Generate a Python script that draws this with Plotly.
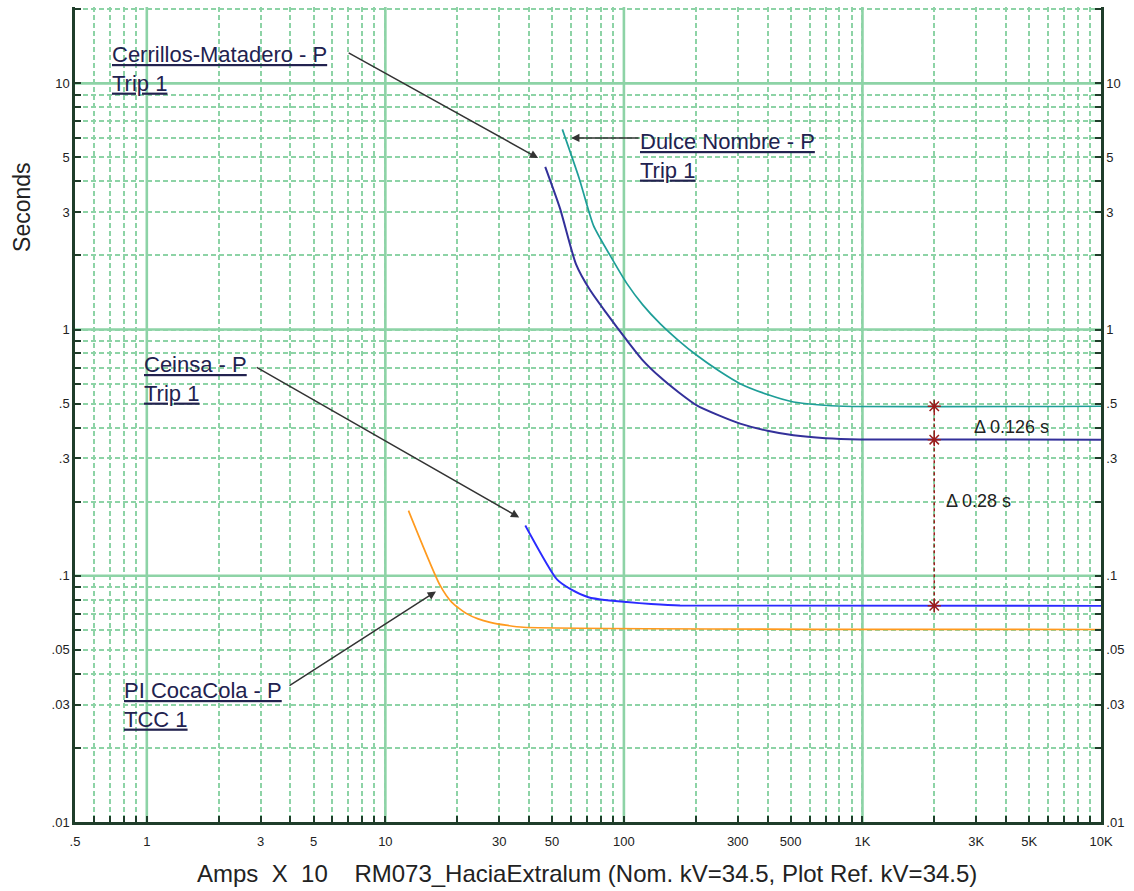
import numpy as np
import plotly.graph_objects as go

# ---------------- data ----------------
dulce_x = [55.2, 65.0, 74.5, 87.5, 102.8, 120.0, 141.8, 170.0, 202, 250, 307, 400, 514, 650, 832, 10000]
dulce_y = [6.5, 4.1, 2.65, 2.0, 1.54, 1.26, 1.057, 0.90, 0.786, 0.68, 0.603, 0.545, 0.508, 0.495, 0.488, 0.488]

cerr_x = [46.8, 54.0, 62.9, 72.0, 84.8, 102.8, 120.0, 141.8, 170.0, 202, 250, 307, 400, 514, 700, 977, 10000]
cerr_y = [4.58, 3.10, 1.85, 1.45, 1.16, 0.905, 0.75, 0.641, 0.555, 0.492, 0.448, 0.415, 0.388, 0.372, 0.362, 0.358, 0.357]

ceinsa_x = [38.6, 52.4, 60.0, 71, 85.0, 102.8, 130.0, 172, 10000]
ceinsa_y = [0.16, 0.0966, 0.0880, 0.0818, 0.0795, 0.0782, 0.0768, 0.0757, 0.0755]

coca_x = [12.5, 16.96, 19.0, 21.9, 24.5, 27.5, 32.0, 37.9, 10000]
coca_y = [0.184, 0.0914, 0.0780, 0.0702, 0.0668, 0.0647, 0.0630, 0.0618, 0.0605]

delta_x = 2000
delta_levels = [0.488, 0.357, 0.0755]
delta_texts = ["\u0394 0.126 s", "\u0394 0.28 s"]

x_tickvals = [0.5, 1, 3, 5, 10, 30, 50, 100, 300, 500, 1000, 3000, 5000, 10000]
x_ticktext = [".5", "1", "3", "5", "10", "30", "50", "100", "300", "500", "1K", "3K", "5K", "10K"]
y_tickvals = [0.01, 0.03, 0.05, 0.1, 0.3, 0.5, 1, 3, 5, 10]
y_ticktext = [".01", ".03", ".05", ".1", ".3", ".5", "1", "3", "5", "10"]
decades_x = [1, 10, 100, 1000]
decades_y = [0.1, 1, 10]

# ---------------- styling ----------------
GRID = "#8dd3a6"
AXIS = "#1f3d2a"
FONT = "Liberation Sans, Arial, sans-serif"
LBL = "#22224f"

X_RANGE = [np.log10(0.5), 4.0]
Y_RANGE = [-2.0, 1.31]

def L(v):
    return float(np.log10(v))

fig = go.Figure()

fig.add_trace(go.Scatter(x=coca_x, y=coca_y, mode="lines", line_shape="spline",
                         line=dict(color="#ff9a1e", width=1.7, smoothing=0.6), name="PI CocaCola - P"))
fig.add_trace(go.Scatter(x=ceinsa_x, y=ceinsa_y, mode="lines", line_shape="spline",
                         line=dict(color="#2b2bff", width=1.9, smoothing=0.6), name="Ceinsa - P"))
fig.add_trace(go.Scatter(x=dulce_x, y=dulce_y, mode="lines", line_shape="spline",
                         line=dict(color="#1e9e98", width=1.7, smoothing=0.6), name="Dulce Nombre - P"))
fig.add_trace(go.Scatter(x=cerr_x, y=cerr_y, mode="lines", line_shape="spline",
                         line=dict(color="#33309a", width=2.0, smoothing=0.6), name="Cerrillos-Matadero - P"))

# delta measurement line (drawn on the right-hand overlay axis, same scale)
fig.add_trace(go.Scatter(x=[delta_x] * len(delta_levels), y=delta_levels, mode="lines+markers",
                         yaxis="y2",
                         line=dict(color="#9b1c1c", width=1.5, dash="dot"),
                         marker=dict(symbol="asterisk-open", size=11,
                                     line=dict(color="#9b1c1c", width=1.5)),
                         name="delta"))

# solid decade grid lines
shapes = []
for v in decades_x:
    shapes.append(dict(type="line", xref="x", yref="paper", x0=v, x1=v, y0=0, y1=1,
                       line=dict(color=GRID, width=2.6), layer="below"))
for v in decades_y:
    shapes.append(dict(type="line", xref="paper", yref="y", x0=0, x1=1, y0=v, y1=v,
                       line=dict(color=GRID, width=2.6), layer="below"))

annotations = []

def label(text1, text2, x, y):
    annotations.append(dict(
        x=L(x), y=L(y), xref="x", yref="y", xanchor="left", yanchor="middle",
        text=f"<u>{text1}</u><br><u>{text2}</u>", showarrow=False, align="left",
        font=dict(family=FONT, size=22, color=LBL)))

def arrow(x, y, ax, ay):
    annotations.append(dict(
        x=L(x), y=L(y), xref="x", yref="y", ax=ax, ay=ay, axref="pixel", ayref="pixel",
        text="", showarrow=True, arrowhead=2, arrowsize=1.1, arrowwidth=1.5,
        arrowcolor="#333333"))

label("Cerrillos-Matadero - P", "Trip 1", 0.70, 11.4)
arrow(43.7, 4.97, -191, -106)
label("Dulce Nombre - P", "Trip 1", 115, 5.06)
arrow(60.1, 6.0, 69, 0)
label("Ceinsa - P", "Trip 1", 0.955, 0.628)
arrow(36.4, 0.1725, -264, -151)
label("PI CocaCola - P", "TCC 1", 0.79, 0.030)
arrow(16.3, 0.0863, -148, 95)

annotations.append(dict(x=L(2876), y=L(0.402), xref="x", yref="y", xanchor="left", yanchor="middle",
                        text=delta_texts[0], showarrow=False,
                        font=dict(family=FONT, size=18, color="#222222")))
annotations.append(dict(x=L(2188), y=L(0.202), xref="x", yref="y", xanchor="left", yanchor="middle",
                        text=delta_texts[1], showarrow=False,
                        font=dict(family=FONT, size=18, color="#222222")))

# axis titles
annotations.append(dict(x=-0.0517, y=0.7546, xref="paper", yref="paper", textangle=-90,
                        xanchor="center", yanchor="middle", text="Seconds", showarrow=False,
                        font=dict(family=FONT, size=23, color="#222222")))
annotations.append(dict(x=0.4995, y=-0.0626, xref="paper", yref="paper",
                        xanchor="center", yanchor="middle",
                        text="Amps\u00a0\u00a0X\u00a0\u00a010\u00a0\u00a0\u00a0\u00a0RM073_HaciaExtralum (Nom. kV=34.5, Plot Ref. kV=34.5)",
                        showarrow=False, font=dict(family=FONT, size=24, color="#222222")))

axis_common = dict(
    type="log", showline=True, linecolor=AXIS, linewidth=2.5, mirror=False,
    ticks="inside", ticklen=6, tickwidth=2, tickcolor=AXIS,
    tickfont=dict(family=FONT, size=13, color="#222222"),
    showgrid=False, zeroline=False,
)
minor_common = dict(dtick="D1", ticks="inside", ticklen=6, tickwidth=2, tickcolor=AXIS)

fig.update_layout(
    width=1134, height=891,
    margin=dict(l=75, r=33, t=7, b=69),
    paper_bgcolor="white", plot_bgcolor="white",
    showlegend=False,
    xaxis=dict(**axis_common, range=X_RANGE, tickmode="array", tickvals=x_tickvals,
               ticktext=x_ticktext, ticklabelstandoff=6,
               minor=dict(**minor_common, showgrid=True, gridcolor=GRID, gridwidth=2.4,
                          griddash="5px,3px")),
    yaxis=dict(**axis_common, range=Y_RANGE, tickmode="array", tickvals=y_tickvals,
               ticktext=y_ticktext,
               minor=dict(**minor_common, showgrid=True, gridcolor=GRID, gridwidth=2.4,
                          griddash="5px,3px")),
    yaxis2=dict(**axis_common, range=Y_RANGE, overlaying="y", side="right", anchor="x",
                tickmode="array", tickvals=y_tickvals, ticktext=y_ticktext,
                minor=dict(**minor_common, showgrid=False)),
    shapes=shapes,
    annotations=annotations,
)

fig.write_html("out.html")
